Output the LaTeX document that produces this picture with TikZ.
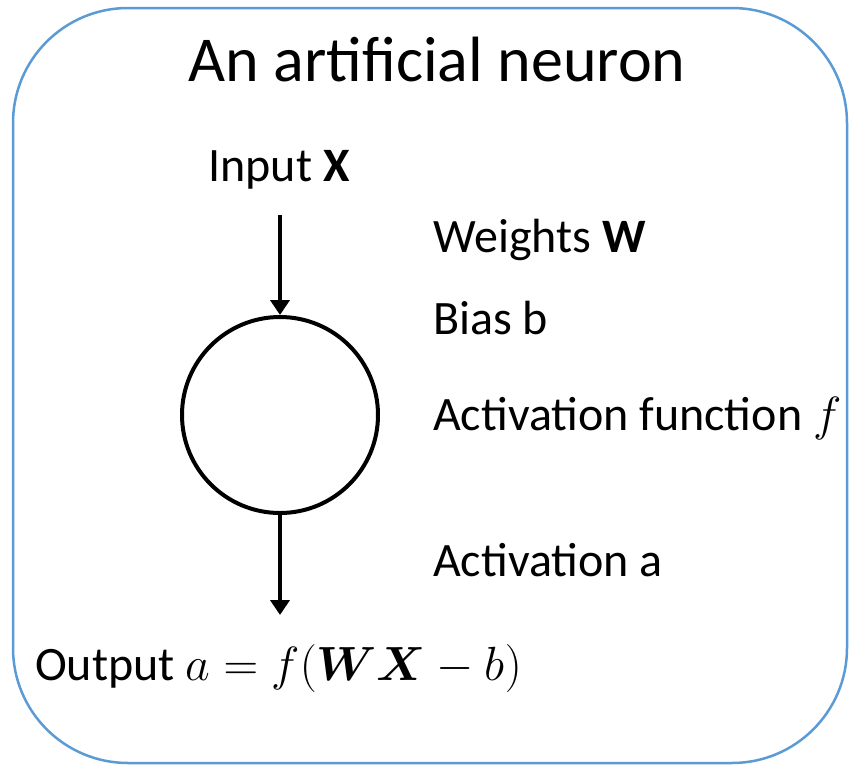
\RequirePackage{fix-cm}
\documentclass[tikz,border=0pt]{standalone}
\usepackage{amsmath}
\usepackage{bm}
\usepackage{fontspec}
\setmainfont{Carlito}
\usetikzlibrary{arrows.meta}
\definecolor{frameblue}{RGB}{91,155,213}
\tikzset{
  lbl/.style={anchor=west, inner sep=0pt, font=\fontsize{48}{54}\selectfont},
  arr/.style={line width=4.5pt, -{Triangle[length=15pt,width=19pt]}},
}
\begin{document}
\begin{tikzpicture}[x=1pt,y=-1pt]
\useasboundingbox (0,0) rectangle (859,771);
\draw[frameblue, line width=2.5pt, rounded corners=115pt] (13,8) rectangle (847,763);
\node[inner sep=0pt, font=\fontsize{64}{70}\selectfont] (title) at (437,60) {An artificial neuron};
\node[inner sep=0pt, font=\fontsize{48}{54}\selectfont] (input) at (279,170) {Input \textbf{X}};
\node[circle, draw, line width=4pt, minimum size=196pt, inner sep=0pt] (neuron) at (280,415) {};
\coordinate (intop) at (280,215);
\coordinate (outbot) at (280,615);
\draw[arr] (intop) -- (neuron.north);
\draw[arr] (neuron.south) -- (outbot);
\node[lbl] (w) at (433,240) {Weights \textbf{W}};
\node[lbl] (b) at (433,318) {Bias b};
\node[lbl] (f) at (433,418) {Activation function $f$};
\node[lbl] (a) at (433,560) {Activation a};
\node[lbl] (out) at (35,668) {Output $a=f(\bm{WX}-b)$};
\end{tikzpicture}
\end{document}
